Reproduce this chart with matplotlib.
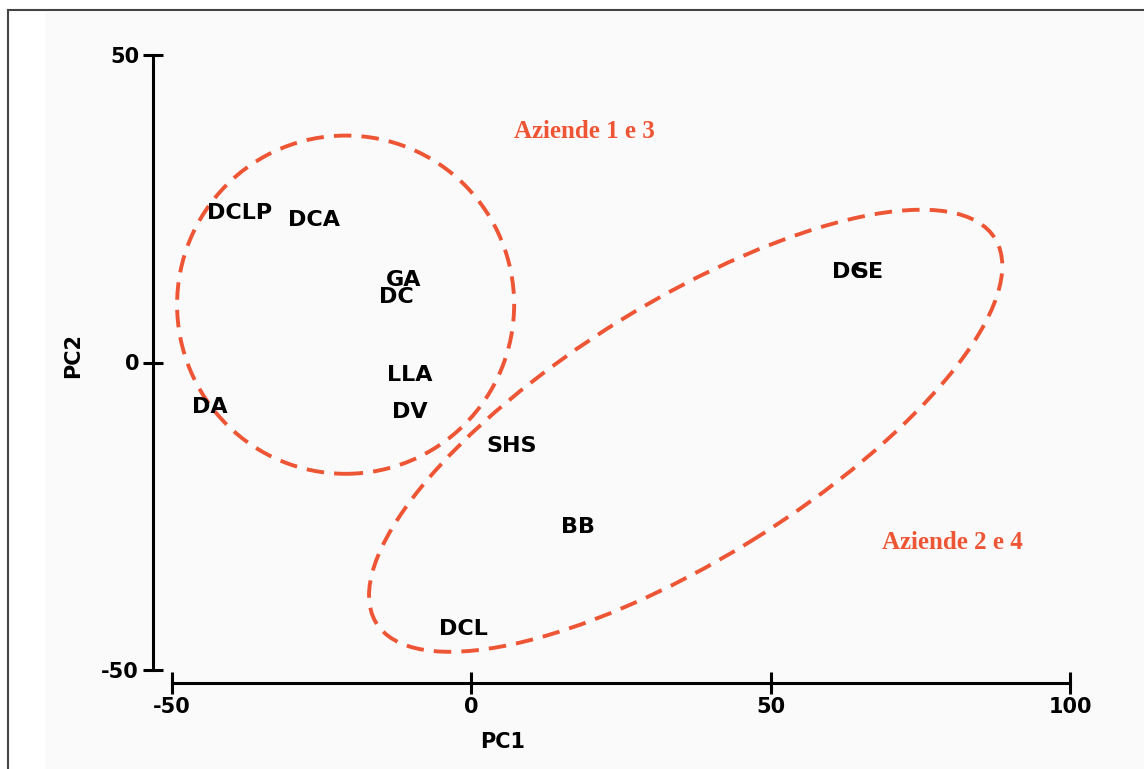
import numpy as np
import matplotlib
matplotlib.use("Agg")
from matplotlib import pyplot as plt
from matplotlib.patches import Ellipse, Rectangle

plt.rcParams["axes.unicode_minus"] = False

# PCA scores
names = ["DCLP", "DCA", "GA", "DC", "LLA", "DV", "DA", "SHS", "BB", "DCL", "DC", "SE"]
pc1 = [-38.7, -26.2, -11.3, -12.5, -10.3, -10.3, -43.7, 6.7, 17.8, -1.3, 63.2, 66.3]
pc2 = [24.3, 23.1, 13.4, 10.7, -2.0, -8.1, -7.3, -13.5, -26.7, -43.3, 14.7, 14.7]

# group outlines: centre x, centre y, width, height, angle
groups = ["Aziende 1 e 3", "Aziende 2 e 4"]
group_pos = [(18.8, 37.6), (80.3, -29.2)]
ell_center = [(-21.0, 9.4), (35.8, -11.1)]
ell_size = [(56.3, 55.0), (120.8, 42.0)]
ell_angle = [0, 31]

red = "#EE5535"

fig = plt.figure(figsize=(11.44, 7.69), dpi=100)
fig.patch.set_facecolor("white")
# light panel + frame like the scanned figure
fig.patches.append(Rectangle((45/1144, 0), 1, 1 - 12/769, transform=fig.transFigure,
                             facecolor="#fafafa", edgecolor="none", zorder=-10))
fig.patches.append(Rectangle((8/1144, -0.1), 1.2, 1.1 - 10/769, transform=fig.transFigure,
                             facecolor="none", edgecolor="#444444", lw=1.5, zorder=-9))

ax = fig.add_axes([172/1144, 1 - 670/769, 898/1144, 615/769])
ax.set_zorder(5)
ax.set_facecolor("none")
ax.set_xlim(-50, 100)
ax.set_ylim(-50, 50)

for s in ["top", "right"]:
    ax.spines[s].set_visible(False)
ax.spines["left"].set_position(("outward", 13.7))
ax.spines["bottom"].set_position(("outward", 9.4))
for s in ["left", "bottom"]:
    ax.spines[s].set_linewidth(2.2)

ax.set_xticks([-50, 0, 50, 100])
ax.set_yticks([-50, 0, 50])
ax.tick_params(direction="inout", length=16, width=2.2, labelsize=15, pad=2)
ax.tick_params(axis="y", length=14, pad=3)
for lab in ax.get_xticklabels() + ax.get_yticklabels():
    lab.set_fontweight("bold")

ax.set_xlabel("PC1", fontsize=15, fontweight="bold")
ax.set_ylabel("PC2", fontsize=15, fontweight="bold")
ax.xaxis.set_label_coords(0.3686, -0.117)
ax.xaxis.label.set_va("center")
ax.yaxis.set_label_coords(-0.1102, 0.512)
ax.yaxis.label.set_va("center")

for n, x, y in zip(names, pc1, pc2):
    ax.text(x, y, n, ha="center", va="center", fontsize=16, fontweight="bold", color="black")

for c, sz, a in zip(ell_center, ell_size, ell_angle):
    e = Ellipse(c, sz[0], sz[1], angle=a, fill=False, edgecolor=red, lw=2.8,
                linestyle=(0, (4.5, 2.6)), clip_on=False)
    ax.add_patch(e)

for g, (x, y) in zip(groups, group_pos):
    ax.text(x, y, g, ha="center", va="center", fontsize=18, fontweight="bold",
            family="Liberation Serif", color=red)

fig.savefig("out.png", dpi=100)
